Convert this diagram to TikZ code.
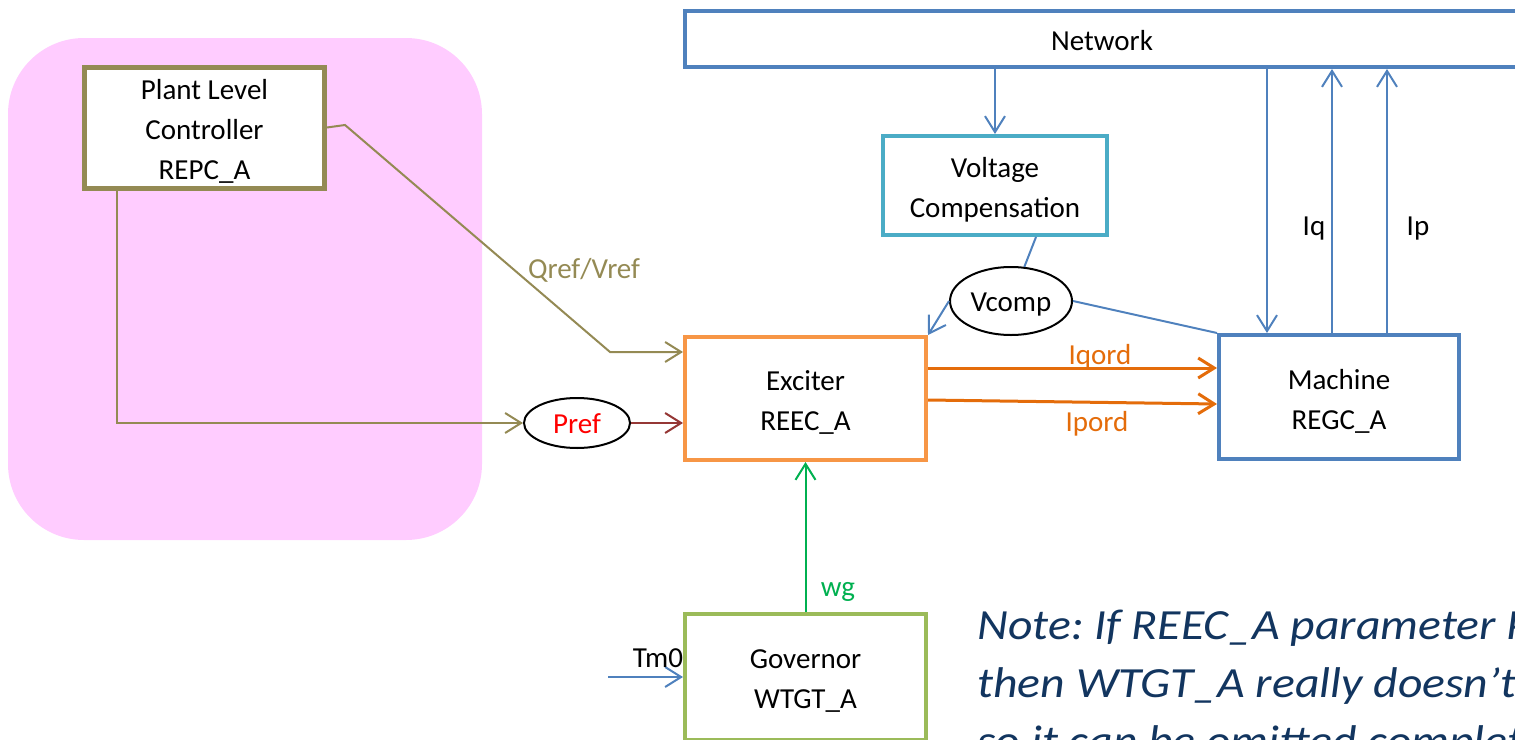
\documentclass[tikz,border=0pt]{standalone}
\usepackage{fontspec}
\setmainfont{Carlito}
\newfontfamily\notefont[FakeStretch=1.11]{Carlito}
\usetikzlibrary{arrows.meta,shapes.geometric}
\definecolor{pinkbg}{HTML}{FFCCFF}
\definecolor{olivec}{HTML}{948A54}
\definecolor{netblue}{HTML}{4F81BD}
\definecolor{tealc}{HTML}{4BACC6}
\definecolor{orangeb}{HTML}{F79646}
\definecolor{orangel}{HTML}{E46C0A}
\definecolor{greenb}{HTML}{9BBB59}
\definecolor{greenl}{HTML}{00B050}
\definecolor{darkred}{HTML}{953735}
\definecolor{notecol}{HTML}{12355F}
\frenchspacing
\begin{document}
\begin{tikzpicture}[x=0.5pt,y=-0.5pt,
  every node/.style={font=\fontsize{14.5}{20}\selectfont},
  blk/.style={draw, fill=white, align=center, inner sep=0pt, line width=2pt},
  inlbl/.style={align=center, inner sep=0pt, yshift=-2pt},
  ell/.style={draw, ellipse, fill=white, inner sep=0pt, line width=1pt},
  tip/.style={-{Straight Barb[length=8pt,width=10pt]}},
  conn/.style={line width=1pt},
  notetxt/.style={anchor=base west, text=notecol, font=\notefont\fontsize{21.5}{29}\selectfont\itshape, inner sep=0pt}
]
\useasboundingbox (0,0) rectangle (1515,739);
\clip (0,0) rectangle (1515,739);

% pink background region
\fill[pinkbg, rounded corners=38pt] (8,38) rectangle (482,540);

% blocks
\node[blk, draw=olivec, line width=2.5pt, minimum width=120pt, minimum height=60.5pt,
  label={[inlbl, name=plct]center:Plant Level\\Controller\\REPC\_A}] (plc) at (204.5,127.5) {};
\node[blk, draw=netblue, minimum width=417pt, minimum height=28pt,
  label={[inlbl, yshift=1pt, name=nett]center:Network}] (net) at (1102,39) {};
\node[blk, draw=tealc, minimum width=112pt, minimum height=49.5pt,
  label={[inlbl, name=vct]center:Voltage\\Compensation}] (vc) at (995,185.5) {};
\node[blk, draw=orangeb, minimum width=120.5pt, minimum height=61.5pt,
  label={[inlbl, name=exct]center:Exciter\\REEC\_A}] (exc) at (805.5,398.5) {};
\node[blk, draw=netblue, minimum width=120pt, minimum height=62pt,
  label={[inlbl, name=macht]center:Machine\\REGC\_A}] (mach) at (1339,397) {};
\node[blk, draw=greenb, minimum width=120.5pt, minimum height=63pt,
  label={[inlbl, name=govt]center:Governor\\WTGT\_A}] (gov) at (805.5,677) {};

% signal ellipses
\node[ell, minimum width=61pt, minimum height=34pt,
  label={[inlbl, name=vcompt]center:Vcomp}] (vcomp) at (1011,301) {};
\node[ell, minimum width=53pt, minimum height=25pt,
  label={[inlbl, yshift=1.5pt, text=red, name=preft]center:Pref}] (pref) at (577,423) {};

% helper coordinates
\coordinate (qa) at (345,125);
\coordinate (qb) at (610,352);
\coordinate (pa) at (117,423);
\coordinate (xin) at (1267,0);
\coordinate (xq) at (1332,0);
\coordinate (xp) at (1387,0);
\coordinate (yq) at (0,368);
\coordinate (yp1) at (0,400);
\coordinate (yp2) at (0,404);
\coordinate (tm) at (608,677);

% connectors
\draw[conn, tip, olivec] (plc.east) -- (qa) -- (qb) -- (qb -| exc.west);
\draw[conn, tip, olivec] (pa |- plc.south) -- (pa) -- (pref.west);
\draw[conn, tip, darkred] (pref.east) -- (pref.east -| exc.west);
\draw[conn, tip, netblue] (vc.north |- net.south) -- (vc.north);
\draw[conn, netblue] ([xshift=20.5pt]vc.south) -- (vcomp);
\draw[conn, tip, netblue] (vcomp.west) -- (exc.north east);
\draw[conn, netblue] (vcomp.east) -- (mach.north west);
\draw[conn, tip, netblue] (xin |- net.south) -- (xin |- mach.north);
\draw[conn, tip, netblue] (xq |- mach.north) -- (xq |- net.south);
\draw[conn, tip, netblue] (xp |- mach.north) -- (xp |- net.south);
\draw[line width=1.5pt, tip, orangel] (yq -| exc.east) -- (yq -| mach.west);
\draw[line width=1.5pt, tip, orangel] (yp1 -| exc.east) -- (yp2 -| mach.west);
\draw[conn, tip, greenl] (gov.north) -- (exc.south);
\draw[conn, tip, netblue] (tm) -- (gov.west);

% connector labels
\node[text=olivec] (lqref) at (584,270) {Qref/Vref};
\node (liq) at (1314,229) {Iq};
\node (lip) at (1418,229) {Ip};
\node[text=orangel] (liqord) at (1100,357) {Iqord};
\node[text=orangel] (lipord) at (1097,424) {Ipord};
\node[text=greenl] (lwg) at (838,592) {wg};
\node (ltm) at (658,658) {Tm0};

% note
\node[notetxt] (note1) at (977,639) {Note: If REEC\_A parameter PFlag = 0,};
\node[notetxt] (note2) at (977,697) {then WTGT\_A really doesn’t do anything,};
\node[notetxt] (note3) at (977,755) {so it can be omitted completely.};
\end{tikzpicture}
\end{document}
